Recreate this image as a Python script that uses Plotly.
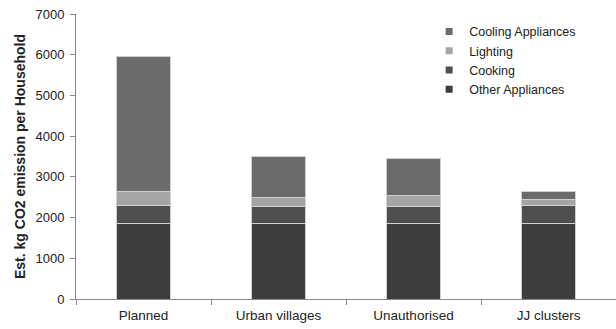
import plotly.graph_objects as go

categories = ["Planned", "Urban villages", "Unauthorised", "JJ clusters"]
other_appliances = [1850, 1850, 1850, 1850]
cooking = [440, 430, 420, 440]
lighting = [360, 220, 280, 150]
cooling = [3300, 990, 910, 210]

series = [
    ("Other Appliances", other_appliances, "#3d3d3d"),
    ("Cooking", cooking, "#4f4f4f"),
    ("Lighting", lighting, "#a6a6a6"),
    ("Cooling Appliances", cooling, "#6b6b6b"),
]

fig = go.Figure()
for name, vals, col in series:
    fig.add_trace(go.Bar(
        x=categories, y=vals, name=name, showlegend=False,
        marker=dict(color=col, line=dict(color="#d0d0d0", width=1)),
        width=0.405,
    ))
# small square legend keys
for name, vals, col in series:
    fig.add_trace(go.Scatter(
        x=[None], y=[None], mode="markers", name=name,
        marker=dict(symbol="square", size=7, color=col),
    ))

fig.update_layout(
    barmode="stack",
    width=616, height=329,
    margin=dict(l=76, r=0, t=14, b=30),
    paper_bgcolor="white", plot_bgcolor="white",
    font=dict(family="Liberation Sans, Arial, sans-serif", size=12, color="#222"),
    showlegend=True,
    legend=dict(
        traceorder="reversed",
        x=0.654, y=0.99, xanchor="left", yanchor="top",
        font=dict(size=12.5, color="#222"),
        bgcolor="rgba(0,0,0,0)",
        itemwidth=30,
        tracegroupgap=0,
    ),
    xaxis=dict(
        showline=True, linecolor="#888", linewidth=1,
        ticks="outside", tickson="boundaries", ticklen=5, tickcolor="#888",
        tickfont=dict(size=13.5, color="#222"),
        ticklabelstandoff=4,
        showgrid=False,
    ),
    yaxis=dict(
        range=[0, 7000], dtick=1000,
        showline=True, linecolor="#888", linewidth=1,
        ticks="outside", ticklen=5, tickcolor="#888",
        tickfont=dict(size=13, color="#222"),
        ticklabelstandoff=3,
        showgrid=False, zeroline=False,
        title=dict(text="<b>Est. kg CO2 emission per Household</b>",
                   font=dict(size=14, color="#222"), standoff=6),
    ),
)

fig.write_html("out.html")
